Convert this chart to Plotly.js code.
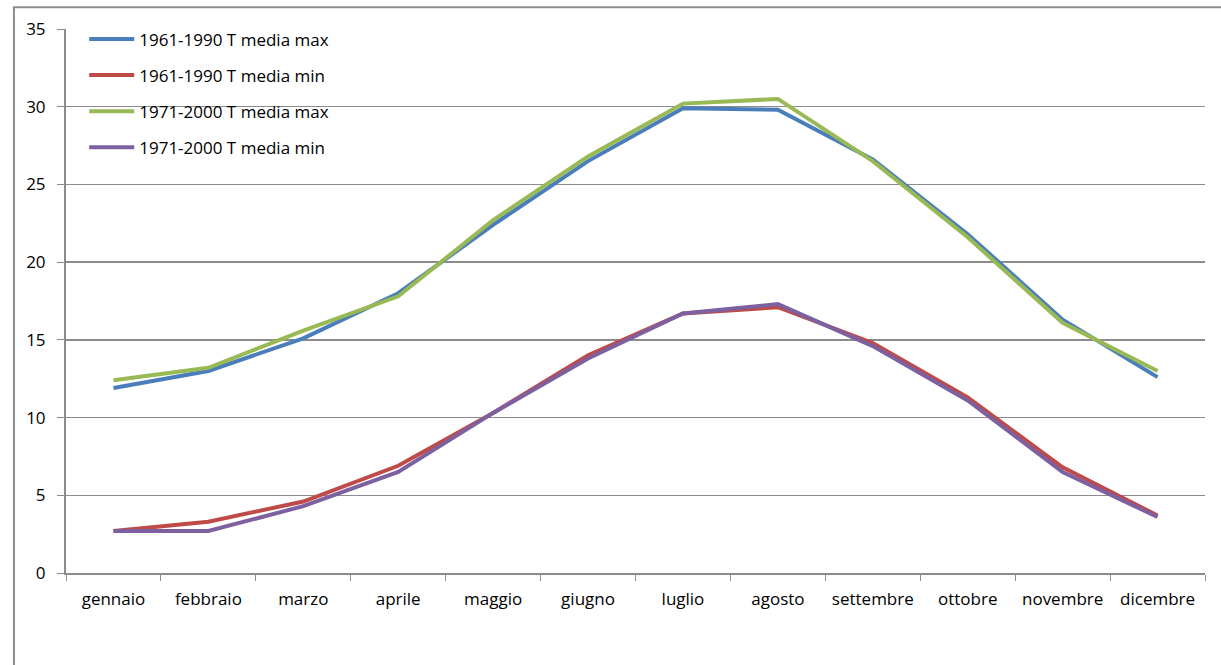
<!DOCTYPE html>
<html>
<head>
<meta charset="utf-8">
<script src="https://cdn.plot.ly/plotly-3.0.1.min.js"></script>
<style>
  html, body { margin: 0; padding: 0; background: #ffffff; }
  #chart { width: 1221px; height: 665px; }
</style>
</head>
<body>
<div id="chart"></div>
<script>
// Temperature medie mensili (°C)
const mesi = ["gennaio", "febbraio", "marzo", "aprile", "maggio", "giugno",
              "luglio", "agosto", "settembre", "ottobre", "novembre", "dicembre"];

const max6190 = [11.9, 13.0, 15.1, 18.0, 22.4, 26.5, 29.9, 29.8, 26.6, 21.8, 16.3, 12.6];
const min6190 = [2.7, 3.3, 4.6, 6.9, 10.3, 14.0, 16.7, 17.1, 14.8, 11.3, 6.8, 3.7];
const max7100 = [12.4, 13.2, 15.6, 17.8, 22.7, 26.8, 30.2, 30.5, 26.5, 21.6, 16.1, 13.0];
const min7100 = [2.7, 2.7, 4.3, 6.5, 10.3, 13.8, 16.7, 17.3, 14.6, 11.1, 6.5, 3.6];

const nomi = ["1961-1990 T media max", "1961-1990 T media min",
              "1971-2000 T media max", "1971-2000 T media min"];
const colori = ["#4A7EBB", "#BE4B48", "#98B954", "#7D60A0"];
const serie = [max6190, min6190, max7100, min7100];

const traces = serie.map((vals, i) => ({
  type: "scatter",
  mode: "lines",
  x: mesi,
  y: vals,
  name: nomi[i],
  legendgroup: "g" + i,
  line: { color: colori[i], width: 4 },
  hoverinfo: "x+y+name"
}));

const grigio = "#8c8c8c";

const layout = {
  width: 1221,
  height: 665,
  paper_bgcolor: "#ffffff",
  plot_bgcolor: "#ffffff",
  margin: { l: 66, r: 16, t: 29, b: 92 },
  font: { family: "'Open Sans', Lato, sans-serif", size: 17, color: "#000000" },
  showlegend: true,
  legend: {
    x: 0.016, y: 1.014, xanchor: "left", yanchor: "top",
    bgcolor: "rgba(255,255,255,0)",
    font: { size: 17, color: "#000000" },
    tracegroupgap: 11,
    itemwidth: 45
  },
  xaxis: {
    type: "category",
    range: [-0.5, 11.5],
    showline: true, linecolor: grigio, linewidth: 2,
    showgrid: false, zeroline: false,
    ticks: "outside", tickson: "boundaries", ticklen: 6,
    tickcolor: grigio, tickwidth: 1,
    ticklabelstandoff: 10,
    tickfont: { size: 17 },
    fixedrange: true
  },
  yaxis: {
    range: [0, 35], dtick: 5, tick0: 0,
    showline: true, linecolor: grigio, linewidth: 2,
    showgrid: true, gridcolor: grigio, gridwidth: 1.5,
    zeroline: false,
    ticks: "outside", ticklen: 7, tickcolor: grigio, tickwidth: 1,
    ticklabelstandoff: 8,
    tickfont: { size: 17 },
    fixedrange: true
  },
  shapes: [{
    // cornice esterna del grafico
    type: "rect", xref: "paper", yref: "paper",
    x0: -0.0457, x1: 1.03, y0: -0.2, y1: 1.040,
    line: { color: grigio, width: 2 },
    fillcolor: "rgba(0,0,0,0)",
    layer: "below"
  }]
};

Plotly.newPlot("chart", traces, layout, { displayModeBar: false, staticPlot: true });
</script>
</body>
</html>
